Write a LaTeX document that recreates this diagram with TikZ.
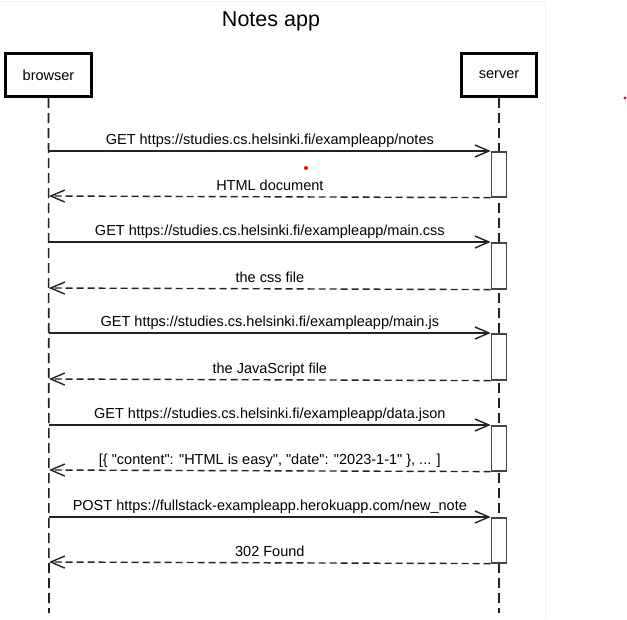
\documentclass[tikz,border=0pt]{standalone}
\usepackage{fontspec}
\setmainfont{Liberation Sans}[Ligatures=TeXOff]
\usetikzlibrary{arrows.meta}
\definecolor{ln}{HTML}{222222}
\definecolor{act}{HTML}{444444}
\definecolor{frame}{HTML}{F0F0F0}
\begin{document}
\begin{tikzpicture}[x=1pt,y=-1pt,
  actor/.style={draw=black,line width=3pt,minimum width=86pt,minimum height=43pt,inner sep=0pt,font=\fontsize{14.5}{17}\selectfont},
  life/.style={draw=ln,line width=1.6pt,dash pattern=on 10pt off 5pt},
  actbox/.style={draw=act,fill=white,line width=1.6pt,minimum width=15pt,inner sep=0pt,anchor=north},
  req/.style={draw=ln,line width=1.4pt,-{Straight Barb[length=14pt,width=12pt,line width=1.4pt]}},
  resp/.style={draw=ln,line width=1.4pt,dash pattern=on 7pt off 4pt,-{Straight Barb[length=14pt,width=12pt,line width=1.4pt]}},
  lbl/.style={font=\fontsize{14.5}{17}\selectfont,text=black,inner sep=0pt,anchor=base},
  dot/.style={fill=red,draw=none}]
\useasboundingbox (0,0) rectangle (627,619);
\fill[white] (0,0) rectangle (627,619);
\draw[frame,line width=1pt] (0,1) -- (545,1) -- (545,619);
\node[lbl,font=\fontsize{21.5}{25}\selectfont] (title) at (271,26) {Notes app};
\node[actor] (browser) at (48.5,75) {browser};
\node[actor,minimum width=75pt] (server) at (499,75) {server};
\coordinate (bend) at (49,613);
\coordinate (send) at (499,613);
\draw[life] (browser.south) -- (bend);
\draw[life] (server.south) -- (send);
% activation boxes
\foreach \i/\y/\h in {1/151/45,2/242/46,3/333/46,4/425/45,5/517/45}{
  \node[actbox,minimum height=\h pt] (a\i) at (499,\y) {};
}
% browser lifeline points
\coordinate (q1) at (49,151);  \coordinate (r1) at (49,196);
\coordinate (q2) at (49,242);  \coordinate (r2) at (49,288);
\coordinate (q3) at (49,333);  \coordinate (r3) at (49,379);
\coordinate (q4) at (49,425);  \coordinate (r4) at (49,470);
\coordinate (q5) at (49,517);  \coordinate (r5) at (49,562);
\draw[req] (q1) -- (a1.north west) node[lbl,midway,yshift=6.5pt] (m1) {GET https://studies.cs.helsinki.fi/exampleapp/notes};
\draw[resp] (a1.south west) -- (r1) node[lbl,midway,yshift=6pt] (n1) {HTML document};
\draw[req] (q2) -- (a2.north west) node[lbl,midway,yshift=6.5pt] (m2) {GET https://studies.cs.helsinki.fi/exampleapp/main.css};
\draw[resp] (a2.south west) -- (r2) node[lbl,midway,yshift=6pt] (n2) {the css file};
\draw[req] (q3) -- (a3.north west) node[lbl,midway,yshift=6.5pt] (m3) {GET https://studies.cs.helsinki.fi/exampleapp/main.js};
\draw[resp] (a3.south west) -- (r3) node[lbl,midway,yshift=6pt] (n3) {the JavaScript file};
\draw[req] (q4) -- (a4.north west) node[lbl,midway,yshift=6.5pt] (m4) {GET https://studies.cs.helsinki.fi/exampleapp/data.json};
\draw[resp] (a4.south west) -- (r4) node[lbl,midway,yshift=6pt] (n4) {[\{ "content": "HTML is easy", "date": "2023-1-1" \}, ... ]};
\draw[req] (q5) -- (a5.north west) node[lbl,midway,yshift=6.5pt] (m5) {POST https://fullstack-exampleapp.herokuapp.com/new\_note};
\draw[resp] (a5.south west) -- (r5) node[lbl,midway,yshift=6pt] (n5) {302 Found};
\fill[dot] (306,168) circle (2pt);
\fill[dot] (625,98) circle (1.6pt);
\end{tikzpicture}
\end{document}
